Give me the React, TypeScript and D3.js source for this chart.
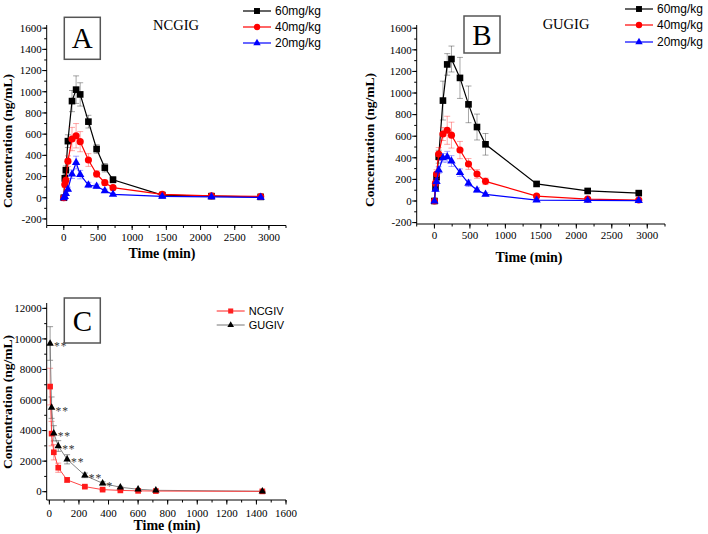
import React from "react";
import * as d3 from "d3";

// ---------- data ----------
const timesAB = [0, 15, 30, 60, 120, 180, 240, 360, 480, 600, 720, 1440, 2160, 2880];

const a60 = [0, 183, 260, 534, 912, 1020, 975, 718, 460, 283, 170, 25, 15, 8];
const a60err = [0, 30, 40, 60, 100, 130, 110, 60, 40, 40, 30, 10, 8, 8];
const a40 = [0, 126, 165, 345, 554, 585, 529, 356, 224, 142, 95, 32, 18, 12];
const a40err = [0, 30, 30, 50, 110, 115, 95, 60, 30, 25, 20, 10, 8, 6];
const a20 = [0, 10, 40, 80, 222, 332, 218, 120, 108, 66, 32, 12, 8, 3];
const a20err = [0, 10, 15, 20, 40, 60, 40, 25, 20, 15, 10, 8, 6, 5];

const b60 = [0, 130, 220, 410, 930, 1265, 1315, 1140, 895, 685, 525, 158, 93, 73];
const b60err = [0, 30, 40, 60, 180, 100, 120, 190, 170, 120, 100, 20, 15, 10];
const b40 = [0, 165, 250, 435, 620, 655, 610, 472, 343, 250, 182, 46, 18, 9];
const b40err = [0, 30, 40, 60, 60, 130, 120, 80, 50, 40, 30, 15, 10, 6];
const b20 = [0, 108, 179, 287, 400, 410, 370, 262, 164, 102, 62, 9, 5, 3];
const b20err = [0, 20, 30, 30, 40, 50, 50, 35, 30, 20, 15, 8, 6, 4];

const doseLabels = ["60mg/kg", "40mg/kg", "20mg/kg"];

const timesC = [5, 15, 30, 60, 120, 240, 360, 480, 600, 720, 1440];
const gugiv = [9700, 5500, 3820, 2990, 2120, 1070, 550, 290, 160, 90, 30];
const gugivErr = [1100, 700, 500, 350, 300, 150, 100, 60, 40, 30, 20];
const ncgiv = [6880, 3800, 2580, 1570, 770, 330, 135, 85, 55, 40, 20];
const ncgivErr = [1200, 800, 500, 300, 150, 80, 50, 30, 20, 15, 10];
const signif = ["**", "**", "**", "**", "**", "**", "*", "", "", "", ""];
const ivLabels = ["NCGIV", "GUGIV"];

const abYTicks = [-200, 0, 200, 400, 600, 800, 1000, 1200, 1400, 1600];
const abXTicks = [0, 500, 1000, 1500, 2000, 2500, 3000];
const cYTicks = [0, 2000, 4000, 6000, 8000, 10000, 12000];
const cXTicks = [0, 200, 400, 600, 800, 1000, 1200, 1400, 1600];

// ---------- helpers ----------
const SERIF = "'Liberation Serif', 'Times New Roman', serif";
const SANS = "'Liberation Sans', Arial, sans-serif";

type Shape = "square" | "circle" | "triangle";
const symType = (s: Shape) =>
  s === "square" ? d3.symbolSquare : s === "circle" ? d3.symbolCircle : d3.symbolTriangle;

function Marker({ shape, x, y, size, color }: { shape: Shape; x: number; y: number; size: number; color: string }) {
  const p = d3.symbol().type(symType(shape)).size(size)()!;
  return <path d={p} transform={`translate(${x},${y})`} fill={color} />;
}

type Scale = d3.ScaleLinear<number, number>;

function Axes({
  x, y, xMajor, xMinor, yMajor, yMinor, xLabelDy, yLabelDx,
}: {
  x: Scale; y: Scale; xMajor: number[]; xMinor: number[]; yMajor: number[]; yMinor: number[];
  xLabelDy: number; yLabelDx: number;
}) {
  const [x0, x1] = x.range();
  const [y0, y1] = y.range();
  return (
    <g stroke="#000" strokeWidth={1}>
      <line x1={x0} x2={x1} y1={y0} y2={y0} />
      <line x1={x0} x2={x0} y1={y0} y2={y1} />
      {xMinor.map((v) => (
        <line key={"xm" + v} x1={x(v)} x2={x(v)} y1={y0} y2={y0 + 2.5} />
      ))}
      {xMajor.map((v) => (
        <g key={"xM" + v}>
          <line x1={x(v)} x2={x(v)} y1={y0} y2={y0 + 4.5} />
          <text x={x(v)} y={y0 + xLabelDy} stroke="none" fill="#000" fontFamily={SERIF} fontSize={11} textAnchor="middle">
            {v}
          </text>
        </g>
      ))}
      {yMinor.map((v) => (
        <line key={"ym" + v} x1={x0} x2={x0 - 2.5} y1={y(v)} y2={y(v)} />
      ))}
      {yMajor.map((v) => (
        <g key={"yM" + v}>
          <line x1={x0} x2={x0 - 4.5} y1={y(v)} y2={y(v)} />
          <text x={x0 - yLabelDx} y={y(v) + 3.8} stroke="none" fill="#000" fontFamily={SERIF} fontSize={11} textAnchor="end">
            {v}
          </text>
        </g>
      ))}
    </g>
  );
}

type Series = {
  values: number[];
  err: number[];
  color: string;
  errColor: string;
  shape: Shape;
  size: number;
  lineWidth: number;
};

function SeriesPlot({ s, times, x, y }: { s: Series; times: number[]; x: Scale; y: Scale }) {
  const line = d3
    .line<number>()
    .x((_, i) => x(times[i]))
    .y((d) => y(d));
  return (
    <g>
      {s.values.map((v, i) =>
        s.err[i] > 0 ? (
          <g key={"e" + i} stroke={s.errColor} strokeWidth={1}>
            <line x1={x(times[i])} x2={x(times[i])} y1={y(v - s.err[i])} y2={y(v + s.err[i])} />
            <line x1={x(times[i]) - 3} x2={x(times[i]) + 3} y1={y(v + s.err[i])} y2={y(v + s.err[i])} />
            <line x1={x(times[i]) - 3} x2={x(times[i]) + 3} y1={y(v - s.err[i])} y2={y(v - s.err[i])} />
          </g>
        ) : null
      )}
      <path d={line(s.values)!} fill="none" stroke={s.color} strokeWidth={s.lineWidth} />
      {s.values.map((v, i) => (
        <Marker key={"m" + i} shape={s.shape} x={x(times[i])} y={y(v)} size={s.size} color={s.color} />
      ))}
    </g>
  );
}

function Legend({
  x, ys, labels, series, fontSize,
}: { x: number; ys: number[]; labels: string[]; series: Series[]; fontSize: number }) {
  return (
    <g>
      {labels.map((l, i) => (
        <g key={l}>
          <line x1={x} x2={x + 28} y1={ys[i]} y2={ys[i]} stroke={series[i].color} strokeWidth={series[i].lineWidth} />
          <Marker shape={series[i].shape} x={x + 14} y={ys[i]} size={series[i].size * 0.8} color={series[i].shape === "triangle" && series[i].color === "#777777" ? "#000" : series[i].color} />
          <text x={x + 32} y={ys[i] + fontSize * 0.36} fontFamily={SANS} fontSize={fontSize} fill="#000">
            {l}
          </text>
        </g>
      ))}
    </g>
  );
}

function LetterBox({ x, y, w, h, letter }: { x: number; y: number; w: number; h: number; letter: string }) {
  return (
    <g>
      <rect x={x} y={y} width={w} height={h} fill="#fff" stroke="#555" strokeWidth={1.5} />
      <text x={x + w / 2} y={y + h / 2 + 10} textAnchor="middle" fontFamily={SERIF} fontSize={29} fill="#000">
        {letter}
      </text>
    </g>
  );
}

function YTitle({ x, y }: { x: number; y: number }) {
  return (
    <text transform={`translate(${x},${y}) rotate(-90)`} textAnchor="middle" fontFamily={SERIF} fontWeight="bold" fontSize={13.5} fill="#000">
      Concentration (ng/mL)
    </text>
  );
}
function XTitle({ x, y }: { x: number; y: number }) {
  return (
    <text x={x} y={y} textAnchor="middle" fontFamily={SERIF} fontWeight="bold" fontSize={14} fill="#000">
      Time (min)
    </text>
  );
}

const range = (a: number, b: number, step: number) => d3.range(a, b + step / 2, step);

export default function App() {
  // Panel A
  const xA = d3.scaleLinear().domain([-250, 3250]).range([46.7, 286]);
  const yA = d3.scaleLinear().domain([-262, 1630]).range([225.5, 25]);
  // Panel B
  const xB = d3.scaleLinear().domain([-250, 3250]).range([416.7, 665]);
  const yB = d3.scaleLinear().domain([-213, 1630]).range([224, 25]);
  // Panel C
  const xC = d3.scaleLinear().domain([-18, 1600]).range([46.7, 286]);
  const yC = d3.scaleLinear().domain([-544, 12350]).range([500, 303]);

  const mk = (values: number[], err: number[], idx: number): Series => {
    const colors = ["#000000", "#ff0000", "#0000ff"];
    const errs = ["rgba(0,0,0,0.35)", "rgba(255,0,0,0.35)", "rgba(0,0,255,0.35)"];
    const shapes: Shape[] = ["square", "circle", "triangle"];
    const sizes = [44, 40, 30];
    return { values, err, color: colors[idx], errColor: errs[idx], shape: shapes[idx], size: sizes[idx], lineWidth: 1.2 };
  };
  const seriesA = [mk(a60, a60err, 0), mk(a40, a40err, 1), mk(a20, a20err, 2)];
  const seriesB = [mk(b60, b60err, 0), mk(b40, b40err, 1), mk(b20, b20err, 2)];

  const sNC: Series = { values: ncgiv, err: ncgivErr, color: "#ff2020", errColor: "rgba(255,0,0,0.4)", shape: "square", size: 32, lineWidth: 1 };
  const sGU: Series = { values: gugiv, err: gugivErr, color: "#000000", errColor: "rgba(0,0,0,0.4)", shape: "triangle", size: 24, lineWidth: 1 };
  const sGUline: Series = { ...sGU, color: "#777777" };

  const gLine = d3
    .line<number>()
    .x((_, i) => xC(timesC[i]))
    .y((d) => yC(d));

  return (
    <svg width={708} height={534} style={{ position: "absolute", left: 0, top: 0, background: "#fff" }}>
      <rect width={708} height={534} fill="#fff" />
      {/* Panel A */}
      <Axes x={xA} y={yA} xMajor={abXTicks} xMinor={range(-250, 3250, 250)} yMajor={abYTicks} yMinor={range(-200, 1600, 100)} xLabelDy={15.5} yLabelDx={5} />
      {seriesA.map((s, i) => (
        <SeriesPlot key={i} s={s} times={timesAB} x={xA} y={yA} />
      ))}
      <LetterBox x={64.3} y={17.3} w={36} h={42} letter="A" />
      <text x={176} y={30} textAnchor="middle" fontFamily={SERIF} fontSize={14.5} fill="#000">NCGIG</text>
      <Legend x={243} ys={[11, 27, 43]} labels={doseLabels} series={seriesA} fontSize={12} />
      <YTitle x={12} y={141} />
      <XTitle x={162} y={258} />

      {/* Panel B */}
      <Axes x={xB} y={yB} xMajor={abXTicks} xMinor={range(-250, 3250, 250)} yMajor={abYTicks} yMinor={range(-200, 1600, 100)} xLabelDy={15} yLabelDx={5} />
      {seriesB.map((s, i) => (
        <SeriesPlot key={i} s={s} times={timesAB} x={xB} y={yB} />
      ))}
      <LetterBox x={464} y={16} w={36} h={37} letter="B" />
      <text x={566} y={29} textAnchor="middle" fontFamily={SERIF} fontSize={14.5} fill="#000">GUGIG</text>
      <Legend x={625} ys={[9, 25, 42]} labels={doseLabels} series={seriesB} fontSize={12} />
      <YTitle x={374} y={140} />
      <XTitle x={529} y={262} />

      {/* Panel C */}
      <Axes x={xC} y={yC} xMajor={cXTicks} xMinor={range(0, 1600, 100)} yMajor={cYTicks} yMinor={range(0, 12000, 1000)} xLabelDy={16.5} yLabelDx={5} />
      {/* error bars */}
      {[sNC, sGU].map((s, k) => (
        <g key={"ce" + k}>
          {s.values.map((v, i) => (
            <g key={i} stroke={s.errColor} strokeWidth={1}>
              <line x1={xC(timesC[i])} x2={xC(timesC[i])} y1={yC(v - s.err[i])} y2={yC(v + s.err[i])} />
              <line x1={xC(timesC[i]) - 3} x2={xC(timesC[i]) + 3} y1={yC(v + s.err[i])} y2={yC(v + s.err[i])} />
              <line x1={xC(timesC[i]) - 3} x2={xC(timesC[i]) + 3} y1={yC(v - s.err[i])} y2={yC(v - s.err[i])} />
            </g>
          ))}
        </g>
      ))}
      <path d={gLine(gugiv)!} fill="none" stroke="#777" strokeWidth={0.9} />
      <path d={gLine(ncgiv)!} fill="none" stroke="#ff3030" strokeWidth={0.9} />
      {ncgiv.map((v, i) => (
        <Marker key={"nc" + i} shape="square" x={xC(timesC[i])} y={yC(v)} size={32} color="#ff1a1a" />
      ))}
      {gugiv.map((v, i) => (
        <Marker key={"gu" + i} shape="triangle" x={xC(timesC[i])} y={yC(v)} size={24} color="#000" />
      ))}
      {gugiv.map((v, i) =>
        signif[i] ? (
          <text key={"s" + i} x={xC(timesC[i]) + 4} y={yC(v) + 7} fontFamily={SERIF} fontSize={11.5} fill="#333" letterSpacing={0.8}>
            {signif[i]}
          </text>
        ) : null
      )}
      <LetterBox x={64.3} y={298} w={36} h={45} letter="C" />
      <Legend x={216.7} ys={[311, 325]} labels={ivLabels} series={[sNC, sGUline]} fontSize={11} />
      <YTitle x={12} y={402} />
      <XTitle x={167} y={530} />
    </svg>
  );
}
